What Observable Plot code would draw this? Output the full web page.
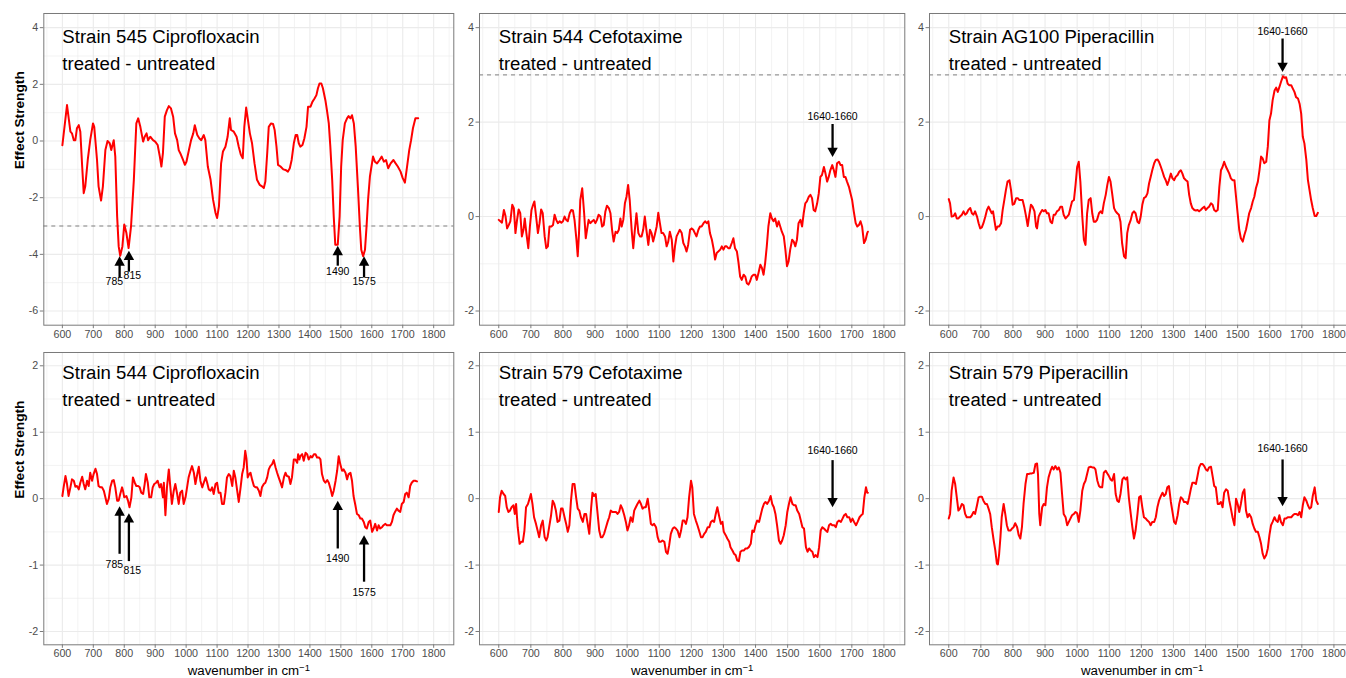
<!DOCTYPE html>
<html><head><meta charset="utf-8">
<script src="https://cdn.jsdelivr.net/npm/d3@7"></script>
<script src="https://cdn.jsdelivr.net/npm/@observablehq/plot@0.6"></script>
<style>
html,body{margin:0;padding:0;background:#fff;overflow:hidden;}
#chart{position:relative;width:1346px;height:678px;overflow:hidden;font-family:"Liberation Sans",Arial,sans-serif;}
#chart svg{position:absolute;}
</style></head><body><div id="chart"></div>
<script>
// ---------- tick values ----------
const xMajor = [600,700,800,900,1000,1100,1200,1300,1400,1500,1600,1700,1800];
const xMinor = [550,650,750,850,950,1050,1150,1250,1350,1450,1550,1650,1750,1850];
const yMajorWide = [-6,-4,-2,0,2,4];
const yMinorWide = [-5,-3,-1,1,3];
const yMajorTop = [-2,0,2,4];
const yMinorTop = [-1,1,3];
const yMajorBottom = [-2,-1,0,1,2];
const yMinorBottom = [-1.5,-0.5,0.5,1.5];

// ---------- titles ----------
const panelTitles = ["Strain 545 Ciprofloxacin","Strain 544 Cefotaxime","Strain AG100 Piperacillin","Strain 544 Ciprofloxacin","Strain 579 Cefotaxime","Strain 579 Piperacillin"];
const subtitle = "treated - untreated";
const yTitle = "Effect Strength";
const xTitle = "wavenumber in cm";
const xTitleSup = "\u22121";

// ---------- spectra: [wavenumber, effect strength] ----------
const s545Cipro = [[600,-0.15],[615,1.27],[626,0.33],[631,0.27],[637,0.03],[642,0.03],[647,0.45],[653,0.56],[658,0.33],[664,-0.9],[669,-1.84],[674,-1.6],[682,-0.67],[690,0.03],[699,0.62],[703,0.5],[712,-0.67],[717,-1.6],[725,-2.1],[731,-1.6],[739,-0.32],[746,0],[753,-0.08],[758,-0.32],[766,0.03],[771,-0.55],[777,-2.66],[782,-3.72],[787,-4.05],[794,-3.72],[800,-2.95],[807,-3.25],[814,-3.78],[822,-3.0],[831,-1.37],[839,0.62],[845,0.8],[852,0.5],[861,-0.02],[866,0.15],[872,0.27],[877,0.03],[884,0.15],[893,0.03],[900,-0.02],[908,-0.14],[915,-0.55],[920,-0.9],[925,-0.43],[931,0.86],[938,1.09],[944,1.23],[951,1.15],[958,0.86],[964,0.27],[971,0.03],[976,-0.32],[981,-0.43],[990,-0.67],[996,-0.84],[1001,-0.73],[1009,-0.32],[1016,0.03],[1023,0.27],[1028,0.56],[1036,0.21],[1043,0.09],[1049,0.03],[1057,0.21],[1062,0.03],[1070,-0.9],[1079,-1.37],[1087,-2.07],[1095,-2.54],[1100,-2.72],[1106,-2.31],[1113,-0.79],[1119,-0.37],[1127,-0.2],[1134,0.15],[1141,0.8],[1145,0.39],[1154,0.33],[1163,0.15],[1170,-0.2],[1177,-0.49],[1183,-0.61],[1188,0.5],[1194,1.18],[1199,0.8],[1206,0.27],[1213,-0.08],[1221,-0.79],[1229,-1.37],[1238,-1.55],[1245,-1.6],[1251,-1.66],[1256,-1.43],[1262,-0.43],[1267,0.5],[1274,0.62],[1281,0.6],[1286,0.39],[1292,-0.2],[1297,-0.84],[1305,-0.9],[1314,-1.0],[1321,-1.02],[1329,-1.08],[1335,-0.96],[1341,-0.67],[1348,-0.08],[1354,0.21],[1359,0.21],[1364,-0.08],[1369,-0.2],[1376,-0.14],[1382,0.09],[1389,0.5],[1394,1.21],[1402,1.21],[1408,1.38],[1415,1.5],[1421,1.62],[1426,1.86],[1431,2.03],[1437,2.03],[1442,1.86],[1450,1.44],[1455,1.09],[1461,0.62],[1466,-0.2],[1472,-1.37],[1477,-2.66],[1482,-3.66],[1490,-3.66],[1496,-2.66],[1501,-0.9],[1506,0.03],[1513,0.62],[1520,0.8],[1525,0.88],[1531,0.8],[1536,0.91],[1542,0.62],[1548,-0.2],[1555,-1.6],[1562,-3.13],[1566,-3.84],[1572,-4.07],[1578,-3.84],[1583,-3.02],[1588,-2.07],[1594,-1.25],[1599,-0.9],[1604,-0.55],[1610,-0.73],[1617,-0.79],[1625,-0.67],[1632,-0.55],[1639,-0.73],[1646,-0.67],[1653,-0.96],[1661,-0.79],[1670,-0.67],[1677,-0.79],[1684,-0.9],[1693,-1.08],[1700,-1.31],[1707,-1.47],[1714,-0.9],[1721,-0.32],[1727,0.03],[1733,0.45],[1741,0.8],[1746,0.8],[1750,0.8]];

const s544Cefo = [[600,-0.07],[605,-0.1],[610,-0.13],[616,0.14],[621,0.01],[626,-0.25],[631,-0.18],[636,-0.1],[642,0.25],[647,0.18],[652,-0.35],[657,-0.07],[662,0.15],[667,0.07],[672,-0.42],[677,-0.28],[681,-0.04],[686,-0.35],[692,-0.67],[697,-0.21],[702,0.14],[707,0.25],[711,0.32],[717,-0.04],[722,-0.35],[727,-0.14],[732,0.15],[737,0.07],[743,-0.42],[748,-0.67],[753,-0.63],[758,-0.21],[764,-0.21],[769,-0.18],[774,0.04],[779,-0.07],[784,-0.14],[790,-0.1],[795,-0.13],[800,-0.1],[805,0],[810,-0.07],[815,-0.1],[821,0.07],[826,0.14],[831,0.13],[836,-0.07],[842,-0.49],[846,-0.84],[850,-0.35],[854,0.35],[860,0.6],[866,0.07],[871,-0.46],[875,-0.28],[880,-0.07],[885,-0.14],[891,-0.1],[896,-0.07],[901,-0.14],[906,-0.07],[911,0.04],[917,0],[922,-0.21],[927,-0.18],[932,0.1],[937,0.23],[943,0.18],[948,0.07],[953,-0.28],[958,-0.53],[964,-0.32],[969,-0.35],[974,-0.28],[979,-0.04],[983,-0.21],[988,-0.07],[993,0.28],[998,0.42],[1003,0.67],[1008,0.35],[1014,-0.28],[1019,-0.67],[1024,-0.28],[1029,0.07],[1035,-0.35],[1040,-0.42],[1045,-0.42],[1050,-0.28],[1055,0],[1060,-0.28],[1066,-0.6],[1071,-0.28],[1076,-0.35],[1081,-0.53],[1086,-0.39],[1092,-0.21],[1097,0.08],[1102,-0.14],[1107,-0.35],[1112,-0.35],[1118,-0.42],[1123,-0.63],[1128,-0.53],[1133,-0.32],[1139,-0.49],[1144,-0.95],[1149,-0.63],[1154,-0.42],[1159,-0.35],[1164,-0.28],[1170,-0.35],[1175,-0.56],[1180,-0.63],[1185,-0.74],[1190,-0.6],[1196,-0.28],[1201,-0.25],[1206,-0.28],[1211,-0.35],[1216,-0.42],[1222,-0.28],[1227,-0.21],[1232,-0.21],[1238,-0.14],[1243,-0.1],[1248,-0.14],[1253,-0.1],[1258,-0.35],[1264,-0.49],[1269,-0.67],[1274,-0.91],[1279,-0.77],[1284,-0.74],[1290,-0.7],[1295,-0.63],[1300,-0.7],[1305,-0.63],[1310,-0.63],[1315,-0.67],[1320,-0.67],[1326,-0.56],[1331,-0.46],[1336,-0.67],[1342,-0.74],[1347,-0.98],[1352,-1.27],[1357,-1.34],[1363,-1.23],[1368,-1.27],[1373,-1.41],[1378,-1.44],[1383,-1.37],[1388,-1.27],[1394,-1.23],[1399,-1.23],[1404,-1.34],[1409,-1.2],[1415,-1.02],[1420,-1.09],[1425,-1.23],[1430,-0.98],[1435,-0.63],[1440,-0.21],[1446,0.07],[1451,-0.04],[1456,-0.1],[1461,-0.04],[1467,-0.21],[1472,-0.1],[1477,-0.21],[1482,-0.32],[1488,-0.42],[1493,-0.7],[1498,-1.05],[1503,-0.95],[1508,-0.7],[1514,-0.49],[1519,-0.53],[1524,-0.63],[1529,-0.49],[1534,-0.14],[1540,-0.07],[1545,-0.21],[1550,0.07],[1555,0.28],[1560,0.32],[1566,0.42],[1571,0.46],[1576,0.39],[1581,0.14],[1586,0.11],[1592,0.28],[1597,0.49],[1602,0.84],[1607,0.88],[1613,1.05],[1618,0.91],[1623,0.74],[1628,0.84],[1633,0.98],[1639,1.09],[1644,0.98],[1649,0.84],[1654,1.13],[1660,1.16],[1665,1.09],[1670,1.09],[1675,0.84],[1680,0.84],[1685,0.74],[1691,0.63],[1696,0.49],[1701,0.35],[1706,0.11],[1712,-0.14],[1717,-0.21],[1722,-0.18],[1727,-0.1],[1732,-0.21],[1738,-0.56],[1743,-0.49],[1748,-0.35],[1750,-0.32]];

const sAG100Pip = [[600,0.37],[604,0.28],[609,0],[615,0.01],[620,0.07],[625,-0.04],[630,-0.04],[635,0],[641,0.04],[646,0.11],[651,0.04],[656,0.07],[661,0.14],[667,0.18],[672,0.07],[677,0.04],[682,0.11],[688,0],[693,-0.14],[698,-0.25],[703,-0.23],[708,-0.14],[714,0],[719,0.14],[724,0.21],[729,0.14],[734,0.07],[738,0.11],[742,-0.07],[747,-0.28],[752,-0.21],[757,-0.21],[763,-0.14],[768,0.14],[773,0.35],[778,0.56],[783,0.74],[789,0.77],[794,0.56],[799,0.25],[804,0.27],[810,0.39],[815,0.39],[820,0.35],[825,0.35],[830,0.35],[835,0.21],[841,0],[846,-0.2],[851,0.04],[856,0.25],[861,0.21],[867,0.11],[872,-0.21],[875,-0.25],[880,0],[885,0.07],[891,0.14],[896,0.11],[901,0.14],[906,0.07],[911,0.07],[917,-0.11],[922,-0.14],[927,0.04],[932,0.04],[937,0.11],[943,0.14],[948,0.21],[953,0.21],[958,0.04],[964,-0.04],[969,0],[974,0.04],[979,0.18],[984,0.32],[990,0.35],[995,0.67],[1000,1.05],[1005,1.16],[1010,0.74],[1016,0],[1021,-0.49],[1026,-0.6],[1031,0.07],[1036,0.35],[1042,0.39],[1047,0.07],[1052,-0.11],[1057,-0.11],[1062,-0.07],[1068,0.07],[1073,0.11],[1078,0.07],[1083,0.28],[1089,0.46],[1094,0.67],[1099,0.84],[1104,0.74],[1109,0.49],[1115,0.18],[1120,0.11],[1125,0.07],[1130,0.04],[1135,-0.11],[1140,-0.56],[1146,-0.84],[1151,-0.88],[1156,-0.35],[1161,-0.18],[1167,-0.07],[1172,0.07],[1177,0.11],[1182,0.07],[1188,-0.11],[1193,-0.14],[1198,0],[1203,0.25],[1208,0.39],[1214,0.42],[1219,0.49],[1224,0.7],[1229,0.84],[1234,0.98],[1240,1.13],[1245,1.2],[1250,1.21],[1255,1.16],[1261,1.05],[1266,0.95],[1271,0.84],[1276,0.77],[1281,0.67],[1286,0.77],[1292,0.91],[1297,0.81],[1302,0.77],[1307,0.84],[1313,0.88],[1318,0.95],[1323,0.98],[1328,0.91],[1333,0.81],[1339,0.77],[1344,0.74],[1349,0.46],[1354,0.28],[1359,0.18],[1365,0.14],[1370,0.13],[1375,0.14],[1380,0.11],[1385,0.14],[1391,0.18],[1396,0.21],[1401,0.14],[1406,0.18],[1411,0.21],[1417,0.28],[1422,0.25],[1427,0.14],[1432,0.11],[1438,0.14],[1443,0.63],[1448,0.98],[1453,1.05],[1458,1.16],[1464,1.05],[1469,0.98],[1474,0.91],[1479,0.81],[1484,0.77],[1490,0.77],[1495,0.42],[1500,0.07],[1505,-0.28],[1510,-0.46],[1516,-0.53],[1521,-0.39],[1526,-0.28],[1531,-0.11],[1536,0.07],[1542,0.18],[1547,0.32],[1552,0.42],[1557,0.6],[1563,0.74],[1568,0.98],[1573,1.27],[1578,1.23],[1583,1.13],[1589,1.16],[1594,1.48],[1599,2.04],[1604,2.18],[1609,2.46],[1615,2.67],[1620,2.73],[1625,2.64],[1630,2.74],[1635,2.85],[1641,2.97],[1646,2.94],[1651,2.95],[1656,2.81],[1661,2.78],[1667,2.78],[1672,2.71],[1677,2.64],[1682,2.53],[1688,2.5],[1693,2.39],[1698,2.18],[1703,1.69],[1708,1.55],[1714,1.2],[1719,0.77],[1724,0.56],[1729,0.35],[1734,0.18],[1740,0.01],[1745,0.01],[1750,0.08]];

const s544Cipro = [[600,0.04],[604,0.17],[610,0.34],[615,0.22],[620,0.04],[626,0.17],[631,0.29],[637,0.27],[642,0.18],[647,0.19],[653,0.14],[658,0.24],[664,0.33],[669,0.22],[674,0.14],[680,0.27],[685,0.19],[690,0.39],[696,0.27],[701,0.37],[707,0.45],[712,0.37],[717,0.19],[723,0.17],[728,0.17],[734,0.12],[739,0.02],[744,-0.08],[750,0],[755,0.17],[761,0.27],[766,0.28],[771,0.17],[777,-0.03],[782,-0.03],[787,0.07],[793,0.17],[796,0.12],[800,0.02],[807,0.04],[812,-0.03],[817,-0.13],[823,0.02],[828,0.32],[834,0.24],[839,0.19],[845,0.19],[850,0.17],[855,0.09],[861,0.07],[866,0.22],[870,0.37],[876,0.24],[881,0.02],[887,0.02],[892,0.17],[897,0.22],[903,0.24],[908,0.27],[914,0.17],[919,0.22],[925,0.02],[928,0.24],[933,-0.25],[938,0.17],[944,0.44],[949,0.17],[954,-0.08],[960,0.12],[965,0.22],[971,0.07],[976,-0.08],[981,0.09],[987,0.12],[992,-0.08],[998,0.02],[1003,0.17],[1008,0.32],[1014,0.42],[1019,0.49],[1025,0.39],[1030,0.22],[1036,0.37],[1041,0.48],[1046,0.27],[1052,0.17],[1057,0.24],[1063,0.32],[1068,0.24],[1073,0.14],[1079,0.12],[1084,0.17],[1089,0.07],[1095,0.22],[1100,0.24],[1105,0.09],[1111,0.09],[1116,-0.08],[1122,-0.08],[1127,0.09],[1132,0.32],[1138,0.37],[1143,0.34],[1149,0.19],[1154,0.42],[1159,0.32],[1165,0.12],[1170,-0.05],[1176,0.17],[1181,0.37],[1186,0.47],[1191,0.72],[1195,0.6],[1199,0.32],[1204,0.37],[1208,0.39],[1213,0.29],[1219,0.19],[1224,0.17],[1229,0.17],[1235,0.12],[1240,0.04],[1245,0.17],[1251,0.22],[1256,0.24],[1262,0.32],[1267,0.44],[1272,0.49],[1278,0.52],[1283,0.58],[1289,0.47],[1294,0.39],[1299,0.32],[1305,0.24],[1310,0.17],[1316,0.32],[1321,0.39],[1326,0.34],[1332,0.33],[1337,0.22],[1342,0.32],[1348,0.59],[1353,0.59],[1359,0.54],[1362,0.67],[1366,0.59],[1369,0.64],[1375,0.67],[1380,0.57],[1386,0.69],[1391,0.67],[1396,0.59],[1402,0.64],[1407,0.62],[1413,0.67],[1418,0.67],[1423,0.62],[1429,0.62],[1434,0.59],[1439,0.37],[1445,0.27],[1450,0.24],[1456,0.28],[1461,0.24],[1467,0.14],[1472,0.04],[1477,0.12],[1483,0.27],[1488,0.42],[1493,0.64],[1498,0.52],[1504,0.42],[1509,0.44],[1515,0.39],[1520,0.29],[1525,0.37],[1531,0.39],[1536,0.27],[1541,0.04],[1547,-0.1],[1552,-0.23],[1558,-0.25],[1563,-0.3],[1568,-0.3],[1574,-0.35],[1579,-0.43],[1584,-0.45],[1590,-0.35],[1595,-0.33],[1601,-0.5],[1606,-0.45],[1611,-0.38],[1617,-0.48],[1622,-0.4],[1627,-0.45],[1633,-0.43],[1638,-0.4],[1644,-0.38],[1649,-0.4],[1654,-0.4],[1660,-0.4],[1665,-0.35],[1670,-0.25],[1675,-0.2],[1681,-0.15],[1686,-0.18],[1692,-0.2],[1697,-0.08],[1703,-0.05],[1708,0.07],[1713,0.09],[1719,0.02],[1724,0.19],[1729,0.24],[1735,0.27],[1740,0.27],[1746,0.26]];

const s579Cefo = [[600,-0.2],[604,0.02],[609,0.12],[615,0.07],[620,0.04],[625,-0.13],[630,-0.2],[635,-0.18],[640,-0.13],[646,-0.1],[650,-0.23],[654,-0.08],[659,-0.43],[665,-0.68],[670,-0.65],[675,-0.65],[680,-0.48],[685,-0.13],[691,-0.08],[696,0],[700,0.07],[705,-0.08],[710,-0.28],[716,-0.38],[721,-0.48],[726,-0.58],[732,-0.4],[737,-0.33],[743,-0.58],[748,-0.63],[752,-0.58],[757,-0.43],[763,-0.25],[768,-0.03],[773,-0.08],[778,-0.18],[783,-0.35],[789,-0.33],[794,-0.15],[799,-0.15],[805,-0.28],[810,-0.38],[815,-0.5],[820,-0.4],[825,-0.03],[830,0.22],[836,0.22],[841,0.02],[846,-0.15],[851,-0.18],[856,-0.28],[862,-0.35],[867,-0.23],[872,-0.23],[877,-0.38],[882,-0.53],[888,-0.13],[892,0.09],[897,0.04],[902,0.07],[907,-0.18],[913,-0.48],[918,-0.58],[923,-0.58],[928,-0.53],[933,-0.45],[939,-0.35],[944,-0.28],[949,-0.18],[954,-0.2],[960,-0.2],[965,-0.2],[970,-0.23],[975,-0.2],[980,-0.1],[985,-0.15],[991,-0.25],[996,-0.35],[1001,-0.48],[1006,-0.4],[1011,-0.28],[1017,-0.35],[1022,-0.18],[1027,-0.13],[1032,-0.08],[1038,-0.03],[1043,-0.08],[1048,-0.15],[1053,-0.13],[1058,-0.13],[1064,0],[1069,-0.18],[1074,-0.38],[1079,-0.4],[1084,-0.38],[1090,-0.43],[1095,-0.58],[1100,-0.65],[1105,-0.65],[1110,-0.63],[1116,-0.65],[1121,-0.8],[1126,-0.83],[1131,-0.7],[1136,-0.53],[1142,-0.45],[1147,-0.43],[1152,-0.45],[1157,-0.48],[1163,-0.58],[1168,-0.48],[1173,-0.33],[1178,-0.33],[1183,-0.38],[1188,-0.28],[1193,0.02],[1199,0.27],[1203,0.17],[1208,-0.23],[1214,-0.33],[1219,-0.4],[1224,-0.48],[1230,-0.58],[1235,-0.58],[1240,-0.53],[1245,-0.5],[1251,-0.43],[1256,-0.43],[1261,-0.35],[1266,-0.33],[1271,-0.35],[1276,-0.23],[1281,-0.13],[1286,-0.25],[1292,-0.38],[1297,-0.35],[1301,-0.5],[1307,-0.55],[1312,-0.6],[1318,-0.65],[1322,-0.73],[1328,-0.78],[1333,-0.83],[1338,-0.85],[1343,-0.93],[1348,-0.94],[1353,-0.8],[1358,-0.78],[1364,-0.78],[1369,-0.75],[1374,-0.75],[1379,-0.73],[1385,-0.68],[1390,-0.48],[1395,-0.5],[1400,-0.4],[1405,-0.33],[1411,-0.35],[1416,-0.25],[1421,-0.15],[1426,-0.08],[1431,-0.05],[1436,-0.08],[1442,-0.03],[1447,0.04],[1452,-0.08],[1457,-0.13],[1462,-0.23],[1467,-0.4],[1473,-0.63],[1478,-0.68],[1483,-0.63],[1488,-0.55],[1494,-0.4],[1499,-0.2],[1504,-0.08],[1509,0.02],[1515,-0.08],[1520,-0.1],[1525,-0.1],[1530,-0.18],[1536,-0.23],[1541,-0.33],[1546,-0.43],[1551,-0.45],[1557,-0.73],[1562,-0.8],[1567,-0.75],[1572,-0.78],[1577,-0.8],[1582,-0.88],[1587,-0.85],[1593,-0.88],[1598,-0.73],[1603,-0.48],[1608,-0.43],[1613,-0.45],[1619,-0.48],[1624,-0.5],[1629,-0.4],[1634,-0.38],[1639,-0.4],[1645,-0.4],[1650,-0.43],[1655,-0.35],[1660,-0.33],[1666,-0.35],[1671,-0.3],[1676,-0.25],[1681,-0.23],[1686,-0.28],[1692,-0.28],[1697,-0.35],[1702,-0.3],[1707,-0.35],[1713,-0.4],[1718,-0.35],[1724,-0.28],[1729,-0.25],[1734,-0.23],[1739,0.02],[1744,0.17],[1748,0.09],[1750,0.09]];

const s579Pip = [[600,-0.3],[604,-0.23],[609,0.12],[615,0.32],[620,0.22],[625,0.02],[630,-0.18],[635,-0.15],[641,-0.08],[646,-0.1],[651,-0.23],[656,-0.28],[661,-0.28],[667,-0.28],[672,-0.25],[677,-0.2],[682,-0.23],[688,-0.1],[693,0.02],[698,0.03],[703,0.03],[708,-0.03],[714,-0.08],[719,-0.08],[724,-0.15],[729,-0.23],[734,-0.43],[740,-0.63],[745,-0.78],[750,-0.98],[753,-0.99],[757,-0.83],[761,-0.58],[765,-0.28],[771,-0.08],[776,-0.23],[781,-0.4],[786,-0.48],[792,-0.48],[797,-0.45],[802,-0.43],[807,-0.37],[813,-0.43],[818,-0.55],[823,-0.6],[828,-0.43],[833,-0.08],[839,0.22],[844,0.37],[849,0.37],[854,0.38],[859,0.38],[865,0.39],[870,0.52],[875,0.53],[878,0.37],[882,-0.23],[885,-0.4],[891,-0.13],[896,-0.08],[901,-0.1],[906,0.17],[911,0.32],[917,0.42],[922,0.48],[927,0.44],[932,0.49],[938,0.44],[943,0.47],[948,0.39],[953,0.07],[958,-0.23],[964,-0.28],[969,-0.4],[974,-0.35],[979,-0.3],[984,-0.25],[990,-0.23],[995,-0.2],[1000,-0.22],[1005,-0.35],[1010,-0.18],[1016,0.12],[1021,0.22],[1026,0.27],[1031,0.37],[1036,0.47],[1042,0.48],[1047,0.47],[1052,0.47],[1057,0.44],[1063,0.27],[1068,0.19],[1073,0.17],[1078,0.17],[1083,0.39],[1089,0.42],[1094,0.38],[1099,0.34],[1104,0.29],[1109,0.27],[1115,0.37],[1120,0.07],[1125,-0.03],[1130,-0.05],[1135,0.07],[1141,0.29],[1146,0.32],[1151,0.29],[1156,0.32],[1161,0.02],[1167,-0.23],[1172,-0.43],[1177,-0.6],[1182,-0.48],[1188,-0.23],[1193,0.02],[1198,0.04],[1203,-0.13],[1208,-0.28],[1214,-0.3],[1219,-0.33],[1224,-0.35],[1229,-0.4],[1234,-0.35],[1240,-0.35],[1245,-0.28],[1250,-0.13],[1255,-0.03],[1261,0.04],[1266,0.09],[1271,0.04],[1276,0.07],[1281,0.17],[1286,0.19],[1292,-0.05],[1297,-0.2],[1302,-0.35],[1307,-0.38],[1313,-0.25],[1318,-0.08],[1323,0.02],[1328,0],[1333,-0.05],[1339,-0.05],[1344,-0.08],[1349,0.02],[1354,0.14],[1359,0.24],[1365,0.24],[1370,0.22],[1375,0.34],[1380,0.47],[1385,0.52],[1391,0.52],[1396,0.49],[1401,0.44],[1406,0.42],[1411,0.47],[1417,0.48],[1422,0.34],[1427,0.19],[1432,0.17],[1438,-0.08],[1443,-0.08],[1448,-0.05],[1453,-0.13],[1458,0.09],[1464,0.14],[1469,0.12],[1474,-0.03],[1479,-0.15],[1484,-0.28],[1490,-0.4],[1495,0],[1500,-0.08],[1505,-0.2],[1510,-0.08],[1516,0.09],[1521,0.14],[1526,-0.18],[1531,-0.28],[1536,-0.23],[1542,-0.28],[1547,-0.38],[1552,-0.45],[1557,-0.5],[1563,-0.5],[1568,-0.58],[1573,-0.68],[1578,-0.83],[1583,-0.9],[1589,-0.85],[1594,-0.75],[1599,-0.55],[1604,-0.4],[1609,-0.35],[1615,-0.28],[1620,-0.33],[1625,-0.35],[1630,-0.25],[1635,-0.35],[1641,-0.4],[1646,-0.3],[1651,-0.3],[1656,-0.28],[1661,-0.28],[1667,-0.28],[1672,-0.25],[1677,-0.23],[1682,-0.23],[1688,-0.25],[1693,-0.2],[1698,-0.28],[1703,-0.1],[1708,0.02],[1714,-0.03],[1719,-0.1],[1724,-0.15],[1729,-0.13],[1734,0.04],[1740,0.17],[1745,-0.03],[1750,-0.08]];

// ---------- annotations: arrows [x, tail, tip], labels [text, x, y] ----------
const arrows545Cipro = [[785,-4.81,-4.07],[815,-4.61,-3.87],[1490,-4.40,-3.70],[1575,-4.81,-4.07]];
const labels545Cipro = [["785",768,-4.98],["815",826,-4.75],["1490",1490,-4.60],["1575",1575,-4.98]];
const arrows544Cefo = [[1640,1.96,1.26]];
const labels544Cefo = [["1640-1660",1640,2.11]];
const arrowsAG100Pip = [[1640,3.77,3.06]];
const labelsAG100Pip = [["1640-1660",1640,3.92]];
const arrows544Cipro = [[785,-0.83,-0.115],[815,-0.94,-0.22],[1490,-0.75,-0.03],[1575,-1.25,-0.55]];
const labels544Cipro = [["785",768,-0.99],["815",826,-1.09],["1490",1490,-0.90],["1575",1575,-1.41]];
const arrows579Cefo = [[1640,0.58,-0.13]];
const labels579Cefo = [["1640-1660",1640,0.73]];
const arrows579Pip = [[1640,0.59,-0.115]];
const labels579Pip = [["1640-1660",1640,0.75]];

const thresholds = [-3, 3, 3, null, null, null];
const titleX = 600;

// ---------- layout ----------
const colLeft = [43.3, 479, 929.3], colWidth = [410, 425.3, 425.3];
const rowTop = [13.3, 351.7], rowHeight = [311.7, 292.3];
const xDomain = [540, 1865];
const FONT = '"Liberation Sans", Arial, Helvetica, sans-serif';

const panels = [
  {row:0, col:0, series:s545Cipro, arrows:arrows545Cipro, labels:labels545Cipro, yDomain:[-6.5,4.5], yMajor:yMajorWide, yMinor:yMinorWide},
  {row:0, col:1, series:s544Cefo, arrows:arrows544Cefo, labels:labels544Cefo, yDomain:[-2.3,4.3], yMajor:yMajorTop, yMinor:yMinorTop},
  {row:0, col:2, series:sAG100Pip, arrows:arrowsAG100Pip, labels:labelsAG100Pip, yDomain:[-2.3,4.3], yMajor:yMajorTop, yMinor:yMinorTop},
  {row:1, col:0, series:s544Cipro, arrows:arrows544Cipro, labels:labels544Cipro, yDomain:[-2.2,2.2], yMajor:yMajorBottom, yMinor:yMinorBottom},
  {row:1, col:1, series:s579Cefo, arrows:arrows579Cefo, labels:labels579Cefo, yDomain:[-2.2,2.2], yMajor:yMajorBottom, yMinor:yMinorBottom},
  {row:1, col:2, series:s579Pip, arrows:arrows579Pip, labels:labels579Pip, yDomain:[-2.2,2.2], yMajor:yMajorBottom, yMinor:yMinorBottom}
];

function arrowHead(up) {
  return {draw(ctx, size) {
    const r = Math.sqrt(size / Math.PI), w = r, L = 1.8 * r, s = up ? 1 : -1;
    ctx.moveTo(0, 0); ctx.lineTo(-w, s * L); ctx.lineTo(w, s * L); ctx.closePath();
  }};
}
const headUp = arrowHead(true), headDown = arrowHead(false);
const GRID = "#ebebeb", BORDER = "#7a7a7a";

const chart = document.getElementById("chart");
panels.forEach((p, i) => {
  const {row, col} = p;
  const ml = col === 0 ? colLeft[0] : 40, mr = 8, mt = 6;
  const mb = row === 0 ? 24 : 678 - (rowTop[1] + rowHeight[1]);
  const W = ml + colWidth[col] + mr, H = mt + rowHeight[row] + mb;
  const arrows = p.arrows.map(([x, tail, tip]) => ({x, tail, tip}));
  const ups = arrows.filter(a => a.tip > a.tail), downs = arrows.filter(a => a.tip < a.tail);
  const labels = p.labels.map(([text, x, y]) => ({text, x, y}));
  const marks = [
    Plot.ruleX(xMinor, {stroke: GRID, strokeWidth: 0.6}),
    Plot.ruleY(p.yMinor, {stroke: GRID, strokeWidth: 0.6}),
    Plot.ruleX(xMajor, {stroke: GRID, strokeWidth: 1.1}),
    Plot.ruleY(p.yMajor, {stroke: GRID, strokeWidth: 1.1})
  ];
  if (thresholds[i] != null) marks.push(Plot.ruleY([thresholds[i]], {stroke: "#808080", strokeWidth: 1, strokeDasharray: "4,4"}));
  marks.push(Plot.line(p.series, {x: d => d[0], y: d => d[1], stroke: "#ff0000", strokeWidth: 2}));
  marks.push(Plot.arrow(arrows, {x: "x", y1: "tail", y2: "tip", stroke: "black", strokeWidth: 2.3, headLength: 0, insetEnd: 7, strokeLinecap: "butt"}));
  if (ups.length) marks.push(Plot.dot(ups, {x: "x", y: "tip", symbol: headUp, r: 5.2, fill: "black", stroke: "none"}));
  if (downs.length) marks.push(Plot.dot(downs, {x: "x", y: "tip", symbol: headDown, r: 5.2, fill: "black", stroke: "none"}));
  marks.push(Plot.text(labels, {x: "x", y: "y", text: "text", fontSize: 10.5, fill: "black"}));
  marks.push(Plot.text([{x: titleX, t: panelTitles[i]}], {x: "x", text: "t", frameAnchor: "top", lineAnchor: "middle", dy: row === 0 ? 23.4 : 20.6, textAnchor: "start", fontSize: 18.6, fill: "black"}));
  marks.push(Plot.text([{x: titleX, t: subtitle}], {x: "x", text: "t", frameAnchor: "top", lineAnchor: "middle", dy: row === 0 ? 50.7 : 47.3, textAnchor: "start", fontSize: 18.6, fill: "black"}));
  marks.push(Plot.axisX(xMajor, {tickSize: 3.5, tickPadding: 1.5, fontSize: 10.7, fill: "#4d4d4d", stroke: BORDER, tickFormat: d => String(d), label: null}));
  marks.push(Plot.axisY(p.yMajor, {tickSize: 3.5, tickPadding: 2, fontSize: 10.7, fill: "#4d4d4d", stroke: BORDER, tickFormat: d => String(d), label: null}));
  if (col === 0) marks.push(Plot.text([yTitle], {text: d => d, frameAnchor: "left", lineAnchor: "middle", dx: -24.3, rotate: -90, fontSize: 13.7, fontWeight: "bold", fill: "black"}));
  if (row === 1) marks.push(Plot.text([xTitle], {text: d => d, frameAnchor: "bottom", lineAnchor: "middle", dy: 26.3, fontSize: 13.3, fill: "black"}));
  marks.push(Plot.frame({stroke: BORDER, strokeWidth: 1}));

  const svg = Plot.plot({
    width: W, height: H,
    marginLeft: ml, marginRight: mr, marginTop: mt, marginBottom: mb,
    x: {domain: xDomain, axis: null},
    y: {domain: p.yDomain, axis: null},
    style: `background:transparent;overflow:visible;max-width:none;font-family:${FONT};font-size:10.7px;`,
    marks
  });
  svg.style.position = "absolute";
  svg.style.left = (colLeft[col] - ml) + "px";
  svg.style.top = (rowTop[row] - mt) + "px";
  // superscript on the x-axis title
  d3.select(svg).selectAll("text").filter(function() { return this.textContent === xTitle; })
    .each(function() {
      d3.select(this).append("tspan").attr("dy", "-0.45em").attr("font-size", "9.5px").text(xTitleSup);
    });
  chart.appendChild(svg);
});
</script>
</body></html>
